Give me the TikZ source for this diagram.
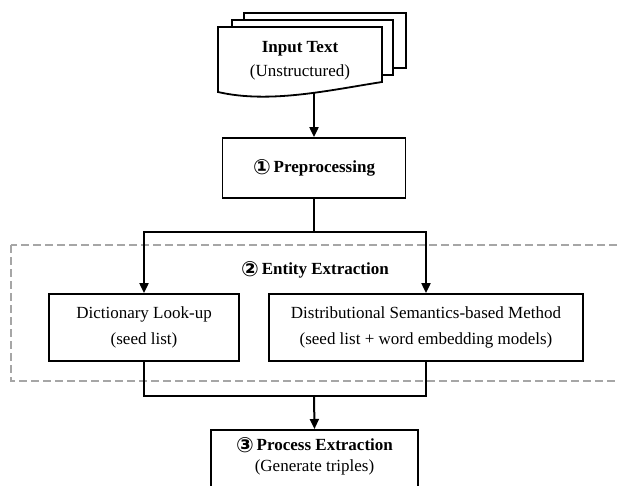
\documentclass[tikz,border=0pt]{standalone}
\usepackage{fontspec}
\setmainfont{Liberation Serif}
\newfontfamily\circfont{DejaVu Sans}
\usetikzlibrary{arrows.meta}
\newcommand{\Circ}[1]{\raisebox{-1.5pt}{\circfont\bfseries\fontsize{21}{21}\selectfont #1}}

\begin{document}
\begin{tikzpicture}[x=1pt,y=-1pt,font=\fontsize{17}{20}\selectfont,
  Box/.style={draw,line width=1.8pt,align=center,inner sep=0pt},
  Sheet/.style={draw,fill=white,line width=1.8pt},
  Link/.style={line width=2pt},
  Arrow/.style={Link,-{Triangle[length=10pt,width=9pt]}}]
  \useasboundingbox (0,0) rectangle (618,485);
  \draw[gray!70,line width=1.6pt,dash pattern=on 8pt off 4pt] (11,245) rectangle (640,381);
  \draw[Sheet] (244,13) rectangle (406,68);
  \draw[Sheet] (232,20) rectangle (393,75);
  \draw[Sheet] (218,27) -- (382,27) -- (382,82) .. controls (330,90) and (270,104) .. (218,92) -- cycle;
  \node[align=center] (input) at (300,61) {\textbf{Input Text}\\[4pt](Unstructured)};
  \coordinate (inbot) at (314,93);
  \node[Box,minimum width=183pt,minimum height=60pt] (pre) at (314,168) {\Circ{①}\,\textbf{Preprocessing}};
  \node (entity) at (315,270) {\Circ{②}\,\textbf{Entity Extraction}};
  \node[Box,minimum width=190pt,minimum height=67pt] (dict) at (144,327.5) {Dictionary Look-up\\[6pt](seed list)};
  \node[Box,minimum width=314pt,minimum height=67pt] (dist) at (426,327.5) {Distributional Semantics-based Method\\[6pt](seed list + word embedding models)};
  \node[Box,anchor=north,minimum width=207pt,inner ysep=11pt,text height=31pt,text depth=30pt] (proc) at (314.5,429) {\Circ{③}\,\textbf{Process Extraction}\\[1pt](Generate triples)};
  \coordinate (split) at (314,232);
  \coordinate (merge) at (314,396);
  \draw[Arrow] (inbot) -- (pre.north);
  \draw[Link] (pre.south) -- (split);
  \draw[Arrow] (split) -| (dict.north);
  \draw[Arrow] (split) -| (dist.north);
  \draw[Link] (dict.south) |- (merge);
  \draw[Link] (dist.south) |- (merge);
  \draw[Arrow] (merge) -- (proc.north);
\end{tikzpicture}
\end{document}
